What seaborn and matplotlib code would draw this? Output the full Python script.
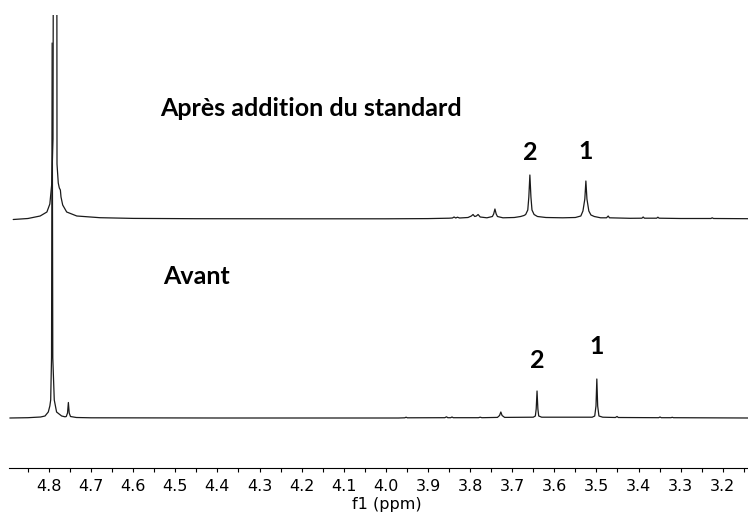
import matplotlib
matplotlib.use("Agg")
import matplotlib.pyplot as plt
import pandas as pd
import seaborn as sns
from matplotlib.ticker import MultipleLocator, FormatStrFormatter

# spectre après addition du standard (ppm, intensité relative à sa ligne de base)
apres_ppm = [
    4.885, 4.85, 4.821, 4.805, 4.798, 4.7935, 4.7905, 4.7880, 4.7822, 4.7810,
    4.778, 4.7755, 4.773, 4.7715, 4.7675, 4.758, 4.734, 4.679, 4.60, 4.45,
    4.20, 4.00, 3.90, 3.85, 3.842, 3.838, 3.834, 3.830, 3.825, 3.805,
    3.797, 3.793, 3.789, 3.785, 3.781, 3.776, 3.760, 3.747, 3.744, 3.741,
    3.738, 3.735, 3.722, 3.695, 3.680, 3.672, 3.668, 3.663, 3.6605, 3.658,
    3.6555, 3.653, 3.648, 3.640, 3.620, 3.580, 3.550, 3.537, 3.532, 3.5275,
    3.525, 3.5225, 3.518, 3.513, 3.505, 3.490, 3.476, 3.472, 3.469, 3.420,
    3.392, 3.389, 3.386, 3.357, 3.354, 3.351, 3.300, 3.228, 3.225, 3.222,
    3.140,
]
apres_int = [
    -0.5, 0.5, 3, 7, 15, 35, 80, 700, 700, 55,
    36, 31, 29, 22, 14, 7, 3, 1.3, 0.6, 0.3,
    0.2, 0.2, 0.4, 0.8, 1.0, 2.0, 1.0, 1.8, 1.0, 1.5,
    3.0, 4.5, 2.5, 3.0, 4.5, 2.0, 1.2, 2.5, 5, 10,
    5, 2.5, 1.2, 1.5, 2.5, 3.5, 4.5, 9, 22, 44,
    22, 9, 4.5, 2.5, 1.5, 1.2, 1.5, 3, 8, 20,
    38, 20, 8, 4, 2.5, 1.2, 1.2, 3, 1.2, 0.7,
    0.8, 2, 0.8, 0.8, 1.8, 0.8, 0.5, 0.5, 1.2, 0.5,
    0.3,
]

# spectre avant
avant_ppm = [
    4.893, 4.85, 4.82, 4.8095, 4.8017, 4.798, 4.796, 4.794, 4.7925, 4.791,
    4.7875, 4.782, 4.770, 4.762, 4.759, 4.756, 4.754, 4.752, 4.749, 4.735,
    4.70, 4.40, 3.97, 3.955, 3.952, 3.949, 3.86, 3.856, 3.853, 3.846,
    3.843, 3.840, 3.78, 3.776, 3.772, 3.735, 3.730, 3.727, 3.724, 3.718,
    3.650, 3.645, 3.643, 3.641, 3.639, 3.637, 3.630, 3.510, 3.504, 3.501,
    3.499, 3.497, 3.494, 3.485, 3.455, 3.451, 3.448, 3.352, 3.349, 3.346,
    3.323, 3.320, 3.317, 3.140,
]
avant_int = [
    0, 0.3, 1.0, 2, 6, 12, 18, 60, 375, 60,
    18, 6, 2, 1.2, 1.5, 5, 15.5, 5, 1.5, 0.5,
    0.2, 0, 0, 0.2, 0.8, 0.2, 0.3, 1.2, 0.3, 0.3,
    1.0, 0.3, 0.3, 0.8, 0.3, 0.6, 2.5, 6, 2.5, 0.6,
    0.8, 2, 9, 27, 9, 2, 0.8, 0.8, 2, 12,
    39, 12, 2, 0.8, 0.5, 1.5, 0.5, 0.3, 1, 0.3,
    0.3, 0.7, 0.3, 0,
]

decalage_apres = 199

titres = ["Après addition du standard", "Avant"]
titres_ppm = [4.536, 4.529]
titres_y = [309, 141]

pics = ["2", "1"]
pics_apres_ppm = [3.658, 3.525]
pics_apres_y = [265, 266]
pics_avant_ppm = [3.641, 3.499]
pics_avant_y = [58, 71]

sns.set_theme(style="ticks")
plt.rcParams["font.family"] = ["DejaVu Sans"]

apres_df = pd.DataFrame({"ppm": apres_ppm, "intensite": apres_int})
apres_df["intensite"] = apres_df["intensite"] + decalage_apres
avant_df = pd.DataFrame({"ppm": avant_ppm, "intensite": avant_int})

fig = plt.figure(figsize=(7.48, 5.18), dpi=100)
ax = fig.add_axes([9 / 748, 50 / 518, 739 / 748, 453 / 518])

for df in [apres_df, avant_df]:
    sns.lineplot(
        data=df, x="ppm", y="intensite", color="#1a1a1a",
        linewidth=0.9, estimator=None, sort=False, ax=ax,
    )

ax.set_xlim(4.895, 3.140)
ax.set_ylim(-50, 403)

gras = dict(fontweight="bold", family=["Lato", "DejaVu Sans"], color="black")
for texte, x, y in zip(titres, titres_ppm, titres_y):
    ax.text(x, y, texte, ha="left", va="center", fontsize=18, **gras)

for texte, x, y in zip(pics, pics_apres_ppm, pics_apres_y):
    ax.text(x, y, texte, ha="center", va="center", fontsize=18, **gras)
for texte, x, y in zip(pics, pics_avant_ppm, pics_avant_y):
    ax.text(x, y, texte, ha="center", va="center", fontsize=18, **gras)

sns.despine(ax=ax, left=True)
ax.spines["bottom"].set_color("black")
ax.spines["bottom"].set_linewidth(0.8)
ax.set_yticks([])
ax.xaxis.set_major_locator(MultipleLocator(0.1))
ax.xaxis.set_minor_locator(MultipleLocator(0.05))
ax.xaxis.set_major_formatter(FormatStrFormatter("%.1f"))
ax.tick_params(axis="x", which="both", direction="out", length=3, width=0.8,
               color="black", labelsize=11.5, labelcolor="black", pad=5)
ax.set_ylabel("")
ax.set_xlabel("f1 (ppm)", fontsize=11.5, color="black")
ax.xaxis.set_label_coords(0.511, -0.063)

plt.savefig("out.png", dpi=100)
